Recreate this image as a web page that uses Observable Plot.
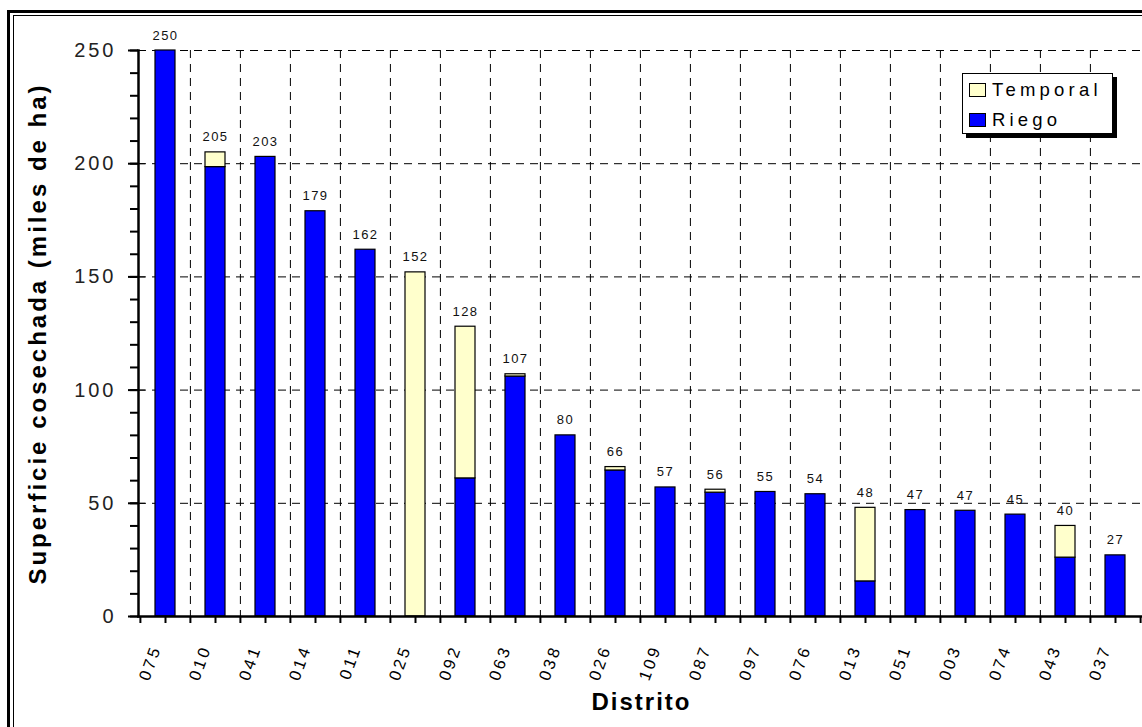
<!DOCTYPE html>
<html>
<head>
<meta charset="utf-8">
<script src="https://cdn.jsdelivr.net/npm/d3@7"></script>
<script src="https://cdn.jsdelivr.net/npm/@observablehq/plot@0.6"></script>
<style>
  html, body { margin: 0; padding: 0; background: #fff; overflow: hidden; }
  #wrap { position: relative; width: 1142px; height: 727px; overflow: hidden; font-family: Arial, "Liberation Sans", sans-serif; }
  #frameOuter { position: absolute; left: 7px; top: 10px; width: 1300px; height: 900px; border: 3px solid #000; }
  #frameInner { position: absolute; left: 13px; top: 15px; width: 1300px; height: 900px; border: 1px solid #000; }
  #chart { position: absolute; left: 0; top: 0; }
  #legend { position: absolute; left: 962px; top: 73px; width: 149px; height: 59px; background: #fff; border: 1px solid #000; box-shadow: 4px 4px 0 #000; }
  .li { position: absolute; left: 6px; display: flex; align-items: center; font-size: 18.5px; letter-spacing: 4.2px; color: #000; line-height: 20px; }
  .sw { width: 17px; height: 14px; border: 1px solid #000; margin-right: 6px; box-sizing: border-box; }
</style>
</head>
<body>
<div id="wrap">
  <div id="frameOuter"></div>
  <div id="frameInner"></div>
  <div id="chart"></div>
  <div id="legend">
    <div class="li" style="top:6px"><div class="sw" style="background:#FFFFCC"></div>Temporal</div>
    <div class="li" style="top:36px"><div class="sw" style="background:#0000FF"></div>Riego</div>
  </div>
</div>
<script>
const distritos = ["075","010","041","014","011","025","092","063","038","026","109","087","097","076","013","051","003","074","043","037"];
const riego     = [250, 198.5, 203, 179, 162, 0, 61, 106, 80, 64.5, 57, 54.7, 55, 54, 15.5, 47, 46.7, 45, 26, 27];
const temporal  = [0, 6.5, 0, 0, 0, 152, 67, 1, 0, 1.5, 0, 1.3, 0, 0, 32.5, 0, 0, 0, 14, 0];
const series    = ["Temporal", "Riego"];
const colors    = ["#FFFFCC", "#0000FF"];
const yMajor    = [0, 50, 100, 150, 200, 250];
const yMinor    = d3.range(0, 251, 10);

const long = [];
distritos.forEach((d, i) => {
  if (riego[i] > 0) long.push({distrito: d, serie: "Riego", value: riego[i]});
  if (temporal[i] > 0) long.push({distrito: d, serie: "Temporal", value: temporal[i]});
});
const totals = distritos.map((d, i) => ({distrito: d, total: riego[i] + temporal[i]}));

const W = 1142, H = 727, mL = 138, mT = 50, mR = 0, mB = 111;
const plotW = W - mL - mR, plotH = H - mT - mB;
const step = plotW / distritos.length;
const dash = "8,6";

const chart = Plot.plot({
  width: W, height: H,
  marginLeft: mL, marginTop: mT, marginRight: mR, marginBottom: mB,
  style: {fontFamily: "Arial, 'Liberation Sans', sans-serif", background: "transparent", color: "#000", overflow: "visible"},
  x: {domain: distritos, paddingInner: 0.6, paddingOuter: 0.3, axis: null},
  y: {domain: [0, 250], axis: null},
  color: {domain: series, range: colors},
  marks: [
    Plot.gridY(yMajor.filter(v => v > 0), {stroke: "#000", strokeOpacity: 1, strokeDasharray: dash}),
    Plot.gridX(distritos.slice(1), {dx: -step / 2, stroke: "#000", strokeOpacity: 1, strokeDasharray: dash}),
    Plot.barY(long, {x: "distrito", y: "value", fill: "serie", stroke: "#000", strokeWidth: 1.2, order: ["Riego", "Temporal"]}),
    Plot.frame({anchor: "left", strokeWidth: 2.5}),
    Plot.frame({anchor: "bottom", strokeWidth: 2.5}),
    Plot.axisY(yMajor, {anchor: "left", label: null, tickSize: 10, tickPadding: 12, fontSize: 20, strokeWidth: 2, fill: "#222"}),
    // minor y ticks (outside) and short inner spikes at major ticks
    Plot.tickY(yMinor, {y: d => d, insetRight: plotW - 8, dx: -8, stroke: "#000", strokeWidth: 2}),
    Plot.tickY(yMajor, {y: d => d, insetRight: plotW - 7, stroke: "#000", strokeWidth: 1}),
    // x ticks at band centres and band boundaries
    Plot.tickX(distritos, {x: d => d, insetTop: plotH - 7, dy: 7, stroke: "#000", strokeWidth: 2}),
    Plot.tickX(distritos, {x: d => d, insetTop: plotH - 7, dy: 7, dx: -step / 2, stroke: "#000", strokeWidth: 2}),
    Plot.tickX([distritos[distritos.length - 1]], {x: d => d, insetTop: plotH - 7, dy: 7, dx: step / 2, stroke: "#000", strokeWidth: 2}),
    Plot.text(distritos, {x: d => d, frameAnchor: "bottom", rotate: -70, textAnchor: "end", dx: -4, dy: 31, fontSize: 16.5, fill: "#000"}),
    Plot.text(totals, {x: "distrito", y: "total", text: d => d3.format(".0f")(d.total), lineAnchor: "bottom", dy: -11, fontSize: 13, fill: "#111"}),
    Plot.text(["Distrito"], {frameAnchor: "bottom", textAnchor: "middle", lineAnchor: "bottom", dy: 93, dx: 1, fontSize: 24, fontWeight: "bold", fill: "#000"}),
    Plot.text(["Superficie cosechada (miles de ha)"], {frameAnchor: "left", textAnchor: "middle", dx: -100, rotate: -90, fontSize: 24, fontWeight: "bold", fill: "#000"})
  ]
});
document.getElementById("chart").appendChild(chart);

// letter spacing tweaks
const svg = d3.select(chart);
svg.selectAll('g[aria-label="text"]').each(function() {
  const g = d3.select(this);
  const txt = g.selectAll("text");
  const t0 = txt.size() ? txt.text() : "";
  if (txt.size() === 1 && t0 === "Distrito") g.attr("letter-spacing", "2px");
  else if (txt.size() === 1 && t0.startsWith("Superficie")) g.attr("letter-spacing", "3px");
  else if (txt.size() === totals.length && t0 === "250") g.attr("letter-spacing", "1.5px");
  else if (txt.size() === distritos.length) g.attr("letter-spacing", "3px");
});
svg.selectAll('g[aria-label="y-axis tick label"]').attr("letter-spacing", "3px");
</script>
</body>
</html>
